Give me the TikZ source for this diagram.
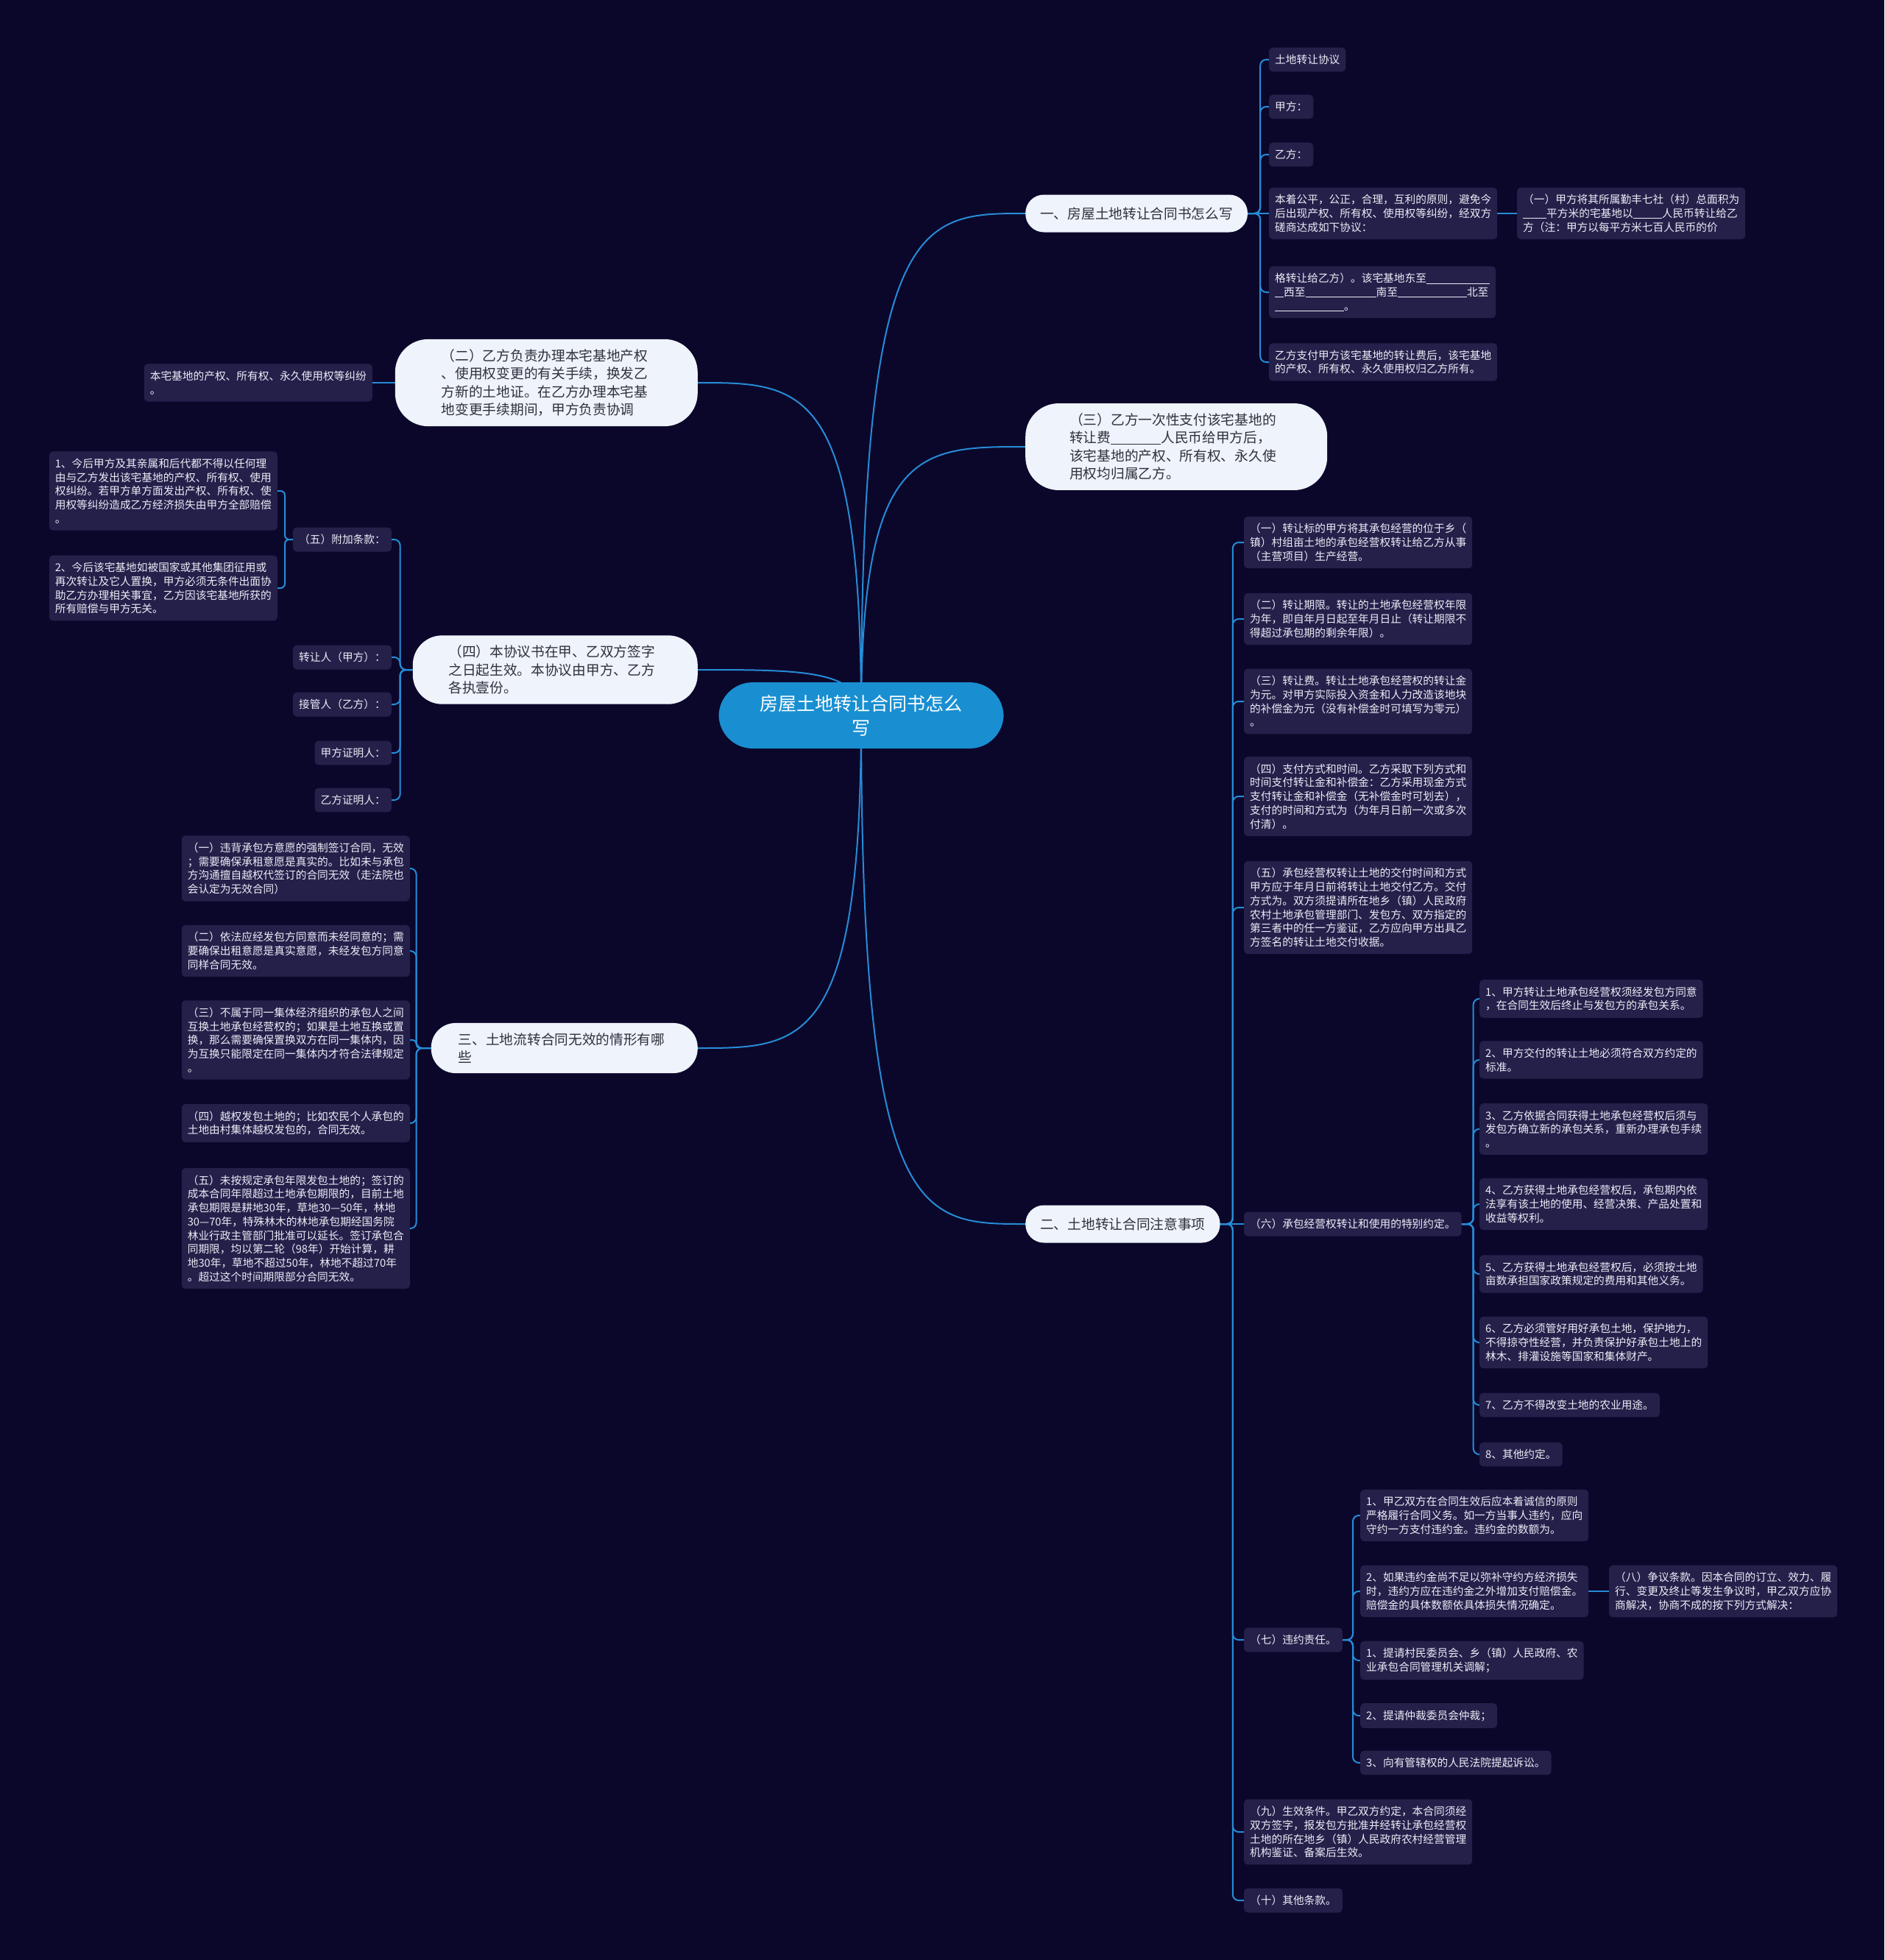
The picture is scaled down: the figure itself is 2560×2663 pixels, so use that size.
\documentclass[tikz,border=0pt]{standalone}
\usepackage{fontspec}
\setmainfont{Noto Sans CJK SC}
\usetikzlibrary{backgrounds}
\definecolor{bgcol}{RGB}{11,7,43}
\definecolor{leafcol}{RGB}{36,32,74}
\definecolor{leaftext}{RGB}{236,236,246}
\definecolor{topicfill}{RGB}{238,243,252}
\definecolor{topictext}{RGB}{48,48,58}
\definecolor{rootcol}{RGB}{25,143,210}
\definecolor{linkcol}{RGB}{38,140,214}
\newcommand{\tblank}[1]{\rule[-1.5pt]{#1pt}{0.8pt}}

\begin{document}
\begin{tikzpicture}[x=1pt, y=-1pt,
  leafbox/.style={fill=leafcol, text=leaftext, rounded corners=5pt, align=left,
    inner xsep=8pt, inner ysep=9.5pt, font=\fontsize{14.7pt}{18.7pt}\selectfont},
  topicbox/.style={fill=topicfill, text=topictext, align=left, inner ysep=13.4pt,
    font=\fontsize{18.7pt}{24.5pt}\selectfont},
  rootbox/.style={fill=rootcol, text=white, align=center, text width=280pt,
    inner xsep=53.5pt, inner ysep=17pt, rounded corners=46pt,
    font=\fontsize{25pt}{33pt}\selectfont},
  linkline/.style={draw=linkcol, line width=2pt},
  bracket/.style={linkline, rounded corners=8pt}]

  % Background
  \begin{scope}[on background layer]
    \fill[bgcol] (0,0) rectangle (2560,2663);
  \end{scope}
  \useasboundingbox (0,0) rectangle (2560,2663);

  % Root
  \node[rootbox] (root) at (1170,972) {房屋土地转让合同书怎么\\写};

  % Main topics, right
  \node[topicbox, anchor=west, inner xsep=20pt, minimum height=51pt,
        rounded corners=25pt] (n1) at (1393,290) {一、房屋土地转让合同书怎么写};
  \node[topicbox, anchor=west, text width=290pt, inner xsep=60pt,
        rounded corners=45pt] (n3) at (1393,607)
        {（三）乙方一次性支付该宅基地的\\转让费\tblank{68}人民币给甲方后，\\该宅基地的产权、所有权、永久使\\用权均归属乙方。};
  \node[topicbox, anchor=west, inner xsep=20pt, minimum height=51pt,
        rounded corners=25pt] (n2) at (1393,1663) {二、土地转让合同注意事项};

  % Main topics, left
  \node[topicbox, anchor=east, text width=285pt, inner xsep=63pt,
        rounded corners=45pt] (m1) at (948,520)
        {（二）乙方负责办理本宅基地产权\\、使用权变更的有关手续，换发乙\\方新的土地证。在乙方办理本宅基\\地变更手续期间，甲方负责协调};
  \node[topicbox, anchor=east, text width=290pt, inner xsep=48.5pt,
        rounded corners=40pt] (m2) at (948,910)
        {（四）本协议书在甲、乙双方签字\\之日起生效。本协议由甲方、乙方\\各执壹份。};
  \node[topicbox, anchor=east, text width=288pt, inner xsep=37pt,
        rounded corners=33pt] (m3) at (948,1424)
        {三、土地流转合同无效的情形有哪\\些};

  % Branch one
  \node[leafbox, anchor=west] (a1) at (1724,81) {土地转让协议};
  \node[leafbox, anchor=west] (a2) at (1724,145) {甲方：};
  \node[leafbox, anchor=west] (a3) at (1724,210) {乙方：};
  \node[leafbox, anchor=west] (a4) at (1724,290)
    {本着公平，公正，合理，互利的原则，避免今\\后出现产权、所有权、使用权等纠纷，经双方\\磋商达成如下协议：};
  \node[leafbox, anchor=west] (a5) at (2061,290)
    {（一）甲方将其所属勤丰七社（村）总面积为\\\tblank{32}平方米的宅基地以\tblank{39}人民币转让给乙\\方（注：甲方以每平方米七百人民币的价};
  \node[leafbox, anchor=west] (a6) at (1724,397)
    {格转让给乙方）。该宅基地东至\tblank{86}\\\tblank{12}西至\tblank{96}南至\tblank{94}北至\\\tblank{94}。};
  \node[leafbox, anchor=west] (a7) at (1724,492)
    {乙方支付甲方该宅基地的转让费后，该宅基地\\的产权、所有权、永久使用权归乙方所有。};

  % Branch two
  \node[leafbox, anchor=west] (b1) at (1690,737)
    {（一）转让标的甲方将其承包经营的位于乡（\\镇）村组亩土地的承包经营权转让给乙方从事\\（主营项目）生产经营。};
  \node[leafbox, anchor=west] (b2) at (1690,841)
    {（二）转让期限。转让的土地承包经营权年限\\为年，即自年月日起至年月日止（转让期限不\\得超过承包期的剩余年限）。};
  \node[leafbox, anchor=west] (b3) at (1690,953)
    {（三）转让费。转让土地承包经营权的转让金\\为元。对甲方实际投入资金和人力改造该地块\\的补偿金为元（没有补偿金时可填写为零元）\\。};
  \node[leafbox, anchor=west] (b4) at (1690,1082)
    {（四）支付方式和时间。乙方采取下列方式和\\时间支付转让金和补偿金：乙方采用现金方式\\支付转让金和补偿金（无补偿金时可划去），\\支付的时间和方式为（为年月日前一次或多次\\付清）。};
  \node[leafbox, anchor=west] (b5) at (1690,1233)
    {（五）承包经营权转让土地的交付时间和方式\\甲方应于年月日前将转让土地交付乙方。交付\\方式为。双方须提请所在地乡（镇）人民政府\\农村土地承包管理部门、发包方、双方指定的\\第三者中的任一方鉴证，乙方应向甲方出具乙\\方签名的转让土地交付收据。};
  \node[leafbox, anchor=west] (b6) at (1690,1663) {（六）承包经营权转让和使用的特别约定。};
  \node[leafbox, anchor=west] (b7) at (1690,2228) {（七）违约责任。};
  \node[leafbox, anchor=west] (b9) at (1690,2489)
    {（九）生效条件。甲乙双方约定，本合同须经\\双方签字，报发包方批准并经转让承包经营权\\土地的所在地乡（镇）人民政府农村经营管理\\机构鉴证、备案后生效。};
  \node[leafbox, anchor=west] (b10) at (1690,2582) {（十）其他条款。};

  % Special terms
  \node[leafbox, anchor=west] (c1) at (2010,1357)
    {1、甲方转让土地承包经营权须经发包方同意\\，在合同生效后终止与发包方的承包关系。};
  \node[leafbox, anchor=west] (c2) at (2010,1440)
    {2、甲方交付的转让土地必须符合双方约定的\\标准。};
  \node[leafbox, anchor=west] (c3) at (2010,1534)
    {3、乙方依据合同获得土地承包经营权后须与\\发包方确立新的承包关系，重新办理承包手续\\。};
  \node[leafbox, anchor=west] (c4) at (2010,1636)
    {4、乙方获得土地承包经营权后，承包期内依\\法享有该土地的使用、经营决策、产品处置和\\收益等权利。};
  \node[leafbox, anchor=west] (c5) at (2010,1731)
    {5、乙方获得土地承包经营权后，必须按土地\\亩数承担国家政策规定的费用和其他义务。};
  \node[leafbox, anchor=west] (c6) at (2010,1824)
    {6、乙方必须管好用好承包土地，保护地力，\\不得掠夺性经营，并负责保护好承包土地上的\\林木、排灌设施等国家和集体财产。};
  \node[leafbox, anchor=west] (c7) at (2010,1909) {7、乙方不得改变土地的农业用途。};
  \node[leafbox, anchor=west] (c8) at (2010,1976) {8、其他约定。};

  % Liability
  \node[leafbox, anchor=west] (d1) at (1848,2059)
    {1、甲乙双方在合同生效后应本着诚信的原则\\严格履行合同义务。如一方当事人违约，应向\\守约一方支付违约金。违约金的数额为。};
  \node[leafbox, anchor=west] (d2) at (1848,2162)
    {2、如果违约金尚不足以弥补守约方经济损失\\时，违约方应在违约金之外增加支付赔偿金。\\赔偿金的具体数额依具体损失情况确定。};
  \node[leafbox, anchor=west] (d3) at (1848,2256)
    {1、提请村民委员会、乡（镇）人民政府、农\\业承包合同管理机关调解；};
  \node[leafbox, anchor=west] (d4) at (1848,2331) {2、提请仲裁委员会仲裁；};
  \node[leafbox, anchor=west] (d5) at (1848,2395) {3、向有管辖权的人民法院提起诉讼。};
  \node[leafbox, anchor=west] (e1) at (2186,2162)
    {（八）争议条款。因本合同的订立、效力、履\\行、变更及终止等发生争议时，甲乙双方应协\\商解决，协商不成的按下列方式解决：};

  % Left branch (二)
  \node[leafbox, anchor=east] (l1) at (506,520)
    {本宅基地的产权、所有权、永久使用权等纠纷\\。};

  % Left branch (四)
  \node[leafbox, anchor=east] (k5) at (532,733) {（五）附加条款：};
  \node[leafbox, anchor=east] (k6) at (532,893) {转让人（甲方）：};
  \node[leafbox, anchor=east] (k7) at (532,957) {接管人（乙方）：};
  \node[leafbox, anchor=east] (k8) at (532,1023) {甲方证明人：};
  \node[leafbox, anchor=east] (k9) at (532,1087) {乙方证明人：};
  \node[leafbox, anchor=east] (h1) at (377,667)
    {1、今后甲方及其亲属和后代都不得以任何理\\由与乙方发出该宅基地的产权、所有权、使用\\权纠纷。若甲方单方面发出产权、所有权、使\\用权等纠纷造成乙方经济损失由甲方全部赔偿\\。};
  \node[leafbox, anchor=east] (h2) at (377,799)
    {2、今后该宅基地如被国家或其他集团征用或\\再次转让及它人置换，甲方必须无条件出面协\\助乙方办理相关事宜，乙方因该宅基地所获的\\所有赔偿与甲方无关。};

  % Left branch three
  \node[leafbox, anchor=east] (j1) at (557,1180)
    {（一）违背承包方意愿的强制签订合同，无效\\；需要确保承租意愿是真实的。比如未与承包\\方沟通擅自越权代签订的合同无效（走法院也\\会认定为无效合同）};
  \node[leafbox, anchor=east] (j2) at (557,1292)
    {（二）依法应经发包方同意而未经同意的；需\\要确保出租意愿是真实意愿，未经发包方同意\\同样合同无效。};
  \node[leafbox, anchor=east] (j3) at (557,1413)
    {（三）不属于同一集体经济组织的承包人之间\\互换土地承包经营权的；如果是土地互换或置\\换，那么需要确保置换双方在同一集体内，因\\为互换只能限定在同一集体内才符合法律规定\\。};
  \node[leafbox, anchor=east] (j4) at (557,1526)
    {（四）越权发包土地的；比如农民个人承包的\\土地由村集体越权发包的，合同无效。};
  \node[leafbox, anchor=east] (j5) at (557,1669)
    {（五）未按规定承包年限发包土地的；签订的\\成本合同年限超过土地承包期限的，目前土地\\承包期限是耕地30年，草地30—50年，林地\\30—70年，特殊林木的林地承包期经国务院\\林业行政主管部门批准可以延长。签订承包合\\同期限，均以第二轮（98年）开始计算，耕\\地30年，草地不超过50年，林地不超过70年\\。超过这个时间期限部分合同无效。};

  % Connectors
  \begin{scope}[on background layer]
    \draw[linkline] (root.center) .. controls (1170,290) and (1250,290) .. (n1.west);
    \draw[linkline] (root.center) .. controls (1170,607) and (1250,607) .. (n3.west);
    \draw[linkline] (root.center) .. controls (1170,1663) and (1250,1663) .. (n2.west);
    \draw[linkline] (root.center) .. controls (1170,520) and (1090,520) .. (m1.east);
    \draw[linkline] (root.center) .. controls (1170,910) and (1090,910) .. (m2.east);
    \draw[linkline] (root.center) .. controls (1170,1424) and (1090,1424) .. (m3.east);

    \foreach \c in {a1,a2,a3,a6,a7}
      \draw[bracket] (n1.east) -- ++(17,0) |- (\c.west);
    \draw[linkline] (n1.east) -- (a4.west);
    \draw[linkline] (a4.east) -- (a5.west);

    \foreach \c in {b1,b2,b3,b4,b5,b7,b9,b10}
      \draw[bracket] (n2.east) -- ++(17,0) |- (\c.west);
    \draw[linkline] (n2.east) -- (b6.west);
    \foreach \c in {c1,c2,c3,c4,c5,c6,c7,c8}
      \draw[bracket] (b6.east) -- ++(16,0) |- (\c.west);
    \foreach \c in {d1,d2,d3,d4,d5}
      \draw[bracket] (b7.east) -- ++(14,0) |- (\c.west);
    \draw[linkline] (d2.east) -- (e1.west);

    \draw[linkline] (m1.west) -- (l1.east);
    \foreach \c in {k5,k6,k7,k8,k9}
      \draw[bracket] (m2.west) -- ++(-17,0) |- (\c.east);
    \foreach \c in {h1,h2}
      \draw[bracket, rounded corners=6pt] (k5.west) -- ++(-11,0) |- (\c.east);
    \foreach \c in {j1,j2,j4,j5}
      \draw[bracket] (m3.west) -- ++(-20,0) |- (\c.east);
    \draw[bracket, rounded corners=5pt] (m3.west) -- ++(-20,0) |- (j3.east);
  \end{scope}
\end{tikzpicture}
\end{document}
